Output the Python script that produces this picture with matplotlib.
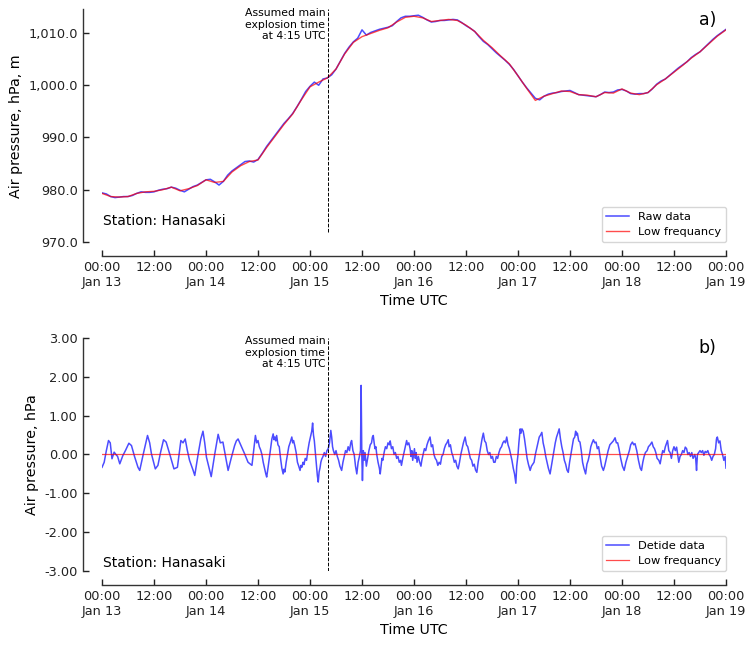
import numpy as np
import matplotlib

matplotlib.use("Agg")
import matplotlib.pyplot as plt
from matplotlib.ticker import FuncFormatter

# ---- data (hours since 2022-01-13 00:00 UTC) ----
raw_hours = np.arange(0, 145)
raw_hpa = [
    979.4, 979.2, 978.7, 978.5, 978.6, 978.7, 978.7, 978.9, 979.3, 979.6,
    979.5, 979.5, 979.6, 979.9, 980.1, 980.2, 980.5, 980.3, 979.9, 979.6,
    980.1, 980.6, 980.9, 981.4, 981.9, 982.0, 981.5, 980.9, 981.6, 982.8,
    983.6, 984.2, 984.8, 985.4, 985.5, 985.3, 985.8, 987.0, 988.3, 989.4,
    990.5, 991.6, 992.7, 993.6, 994.6, 995.9, 997.3, 998.8, 999.8, 1000.6,
    1000.0, 1001.2, 1001.4, 1002.0, 1003.1, 1004.6, 1006.1, 1007.3, 1008.3, 1009.0,
    1010.6, 1009.6, 1010.1, 1010.4, 1010.7, 1010.9, 1011.1, 1011.4, 1012.2, 1012.9,
    1013.2, 1013.2, 1013.3, 1013.4, 1013.0, 1012.5, 1012.1, 1012.2, 1012.4, 1012.4,
    1012.5, 1012.6, 1012.5, 1012.0, 1011.4, 1010.9, 1010.3, 1009.3, 1008.4, 1007.8,
    1007.0, 1006.2, 1005.5, 1004.8, 1004.0, 1003.0, 1001.8, 1000.6, 999.5, 998.5,
    997.5, 997.2, 997.9, 998.3, 998.5, 998.6, 998.8, 998.9, 999.0, 998.6,
    998.2, 998.1, 998.0, 997.9, 997.8, 998.2, 998.7, 998.6, 998.7, 999.1,
    999.2, 998.9, 998.4, 998.3, 998.4, 998.4, 998.6, 999.3, 1000.2, 1000.8,
    1001.2, 1001.9, 1002.6, 1003.3, 1003.9, 1004.5, 1005.3, 1005.9, 1006.4, 1007.2,
    1008.0, 1008.8, 1009.5, 1010.1, 1010.7,
]

low_hours = np.arange(0, 145, 2)
low_hpa = [
    979.3, 978.7, 978.6, 978.7, 979.3, 979.6, 979.7, 980.0, 980.5, 979.8,
    980.2, 980.8, 981.9, 981.4, 981.6, 983.4, 984.6, 985.4, 985.7, 988.1,
    990.3, 992.5, 994.5, 997.2, 999.7, 1000.6, 1001.4, 1003.1, 1006.0, 1008.2,
    1009.3, 1009.9, 1010.5, 1011.0, 1012.1, 1013.0, 1013.2, 1012.9, 1012.2, 1012.4,
    1012.6, 1012.4, 1011.5, 1010.3, 1008.6, 1007.2, 1005.6, 1004.1, 1001.8, 999.4,
    997.1, 997.9, 998.4, 998.9, 998.8, 998.2, 998.1, 997.8, 998.6, 998.5,
    999.3, 998.5, 998.2, 998.6, 1000.1, 1001.2, 1002.5, 1003.8, 1005.2, 1006.4,
    1007.9, 1009.4, 1010.6,
]

# detided series: (hour, hPa)
detide = [
    (0.0, -0.33), (0.5, -0.2), (1.0, 0.1), (1.5, 0.36), (1.9, 0.3), (2.3, -0.11), (2.8, 0.06),
    (3.2, 0.0), (3.6, -0.05), (4.1, -0.24), (4.8, -0.03), (5.4, 0.1), (6.2, 0.29), (6.8, 0.23),
    (7.5, -0.05), (8.3, -0.33), (8.7, -0.41), (9.5, 0.0), (10.5, 0.49), (11.0, 0.3), (11.4, 0.02),
    (12.3, -0.37), (12.9, -0.28), (13.5, 0.05), (14.2, 0.38), (14.8, 0.32), (15.6, 0.02),
    (16.6, -0.37), (17.4, -0.33), (18.2, 0.36), (18.7, 0.3), (19.2, 0.4), (19.7, 0.1),
    (20.2, -0.15), (21.0, -0.4), (21.4, -0.54), (22.2, 0.02), (22.8, 0.4), (23.3, 0.6),
    (23.7, 0.3), (24.1, -0.07), (25.2, -0.57), (26.0, 0.0), (26.8, 0.52), (27.3, 0.3),
    (27.9, 0.32), (28.5, -0.05), (29.1, -0.41), (29.8, -0.1), (30.6, 0.23), (31.0, 0.35),
    (31.4, 0.4), (32.2, 0.2), (32.9, 0.02), (33.7, -0.2), (34.6, -0.28), (35.0, 0.1),
    (35.4, 0.49), (35.7, 0.3),
    (36.0, 0.36), (36.3, 0.2), (36.6, 0.12), (36.9, 0.0), (37.2, -0.2), (37.5, -0.35),
    (37.8, -0.5), (38.0, -0.58), (38.3, -0.35), (38.6, -0.1), (38.9, 0.15), (39.2, 0.4),
    (39.5, 0.53), (39.7, 0.38), (39.9, 0.45), (40.1, 0.35), (40.3, 0.49), (40.6, 0.25),
    (40.9, 0.2), (41.2, -0.1), (41.5, -0.35), (41.8, -0.5), (42.0, -0.38), (42.2, -0.45),
    (42.5, -0.2), (42.8, 0.0), (43.1, 0.2), (43.4, 0.3), (43.8, 0.45), (44.0, 0.3),
    (44.2, 0.36), (44.5, 0.22), (44.8, 0.05), (45.1, -0.2), (45.4, -0.3), (45.7, -0.41),
    (45.9, -0.28), (46.1, -0.33), (46.4, -0.2), (46.6, -0.26), (46.9, -0.1), (47.2, -0.15),
    (47.5, 0.1), (47.8, 0.3), (48.1, 0.45), (48.4, 0.6), (48.6, 0.81), (48.8, 0.5),
    (49.0, 0.35), (49.2, 0.1), (49.5, -0.3), (49.7, -0.55), (49.9, -0.71), (50.1, -0.45),
    (50.3, -0.35), (50.5, -0.2), (50.7, -0.12), (51.0, -0.05), (51.3, 0.05), (51.6, -0.05),
    (51.9, 0.1), (52.2, 0.15), (52.5, 0.3), (52.8, 0.62), (53.0, 0.45), (53.2, 0.2),
    (53.4, 0.1), (53.7, 0.0), (54.0, 0.1), (54.3, -0.05), (54.6, -0.15), (54.9, -0.3),
    (55.3, -0.41), (55.6, -0.2), (55.9, -0.05), (56.2, 0.1), (56.5, 0.05), (56.8, 0.2),
    (57.1, 0.1), (57.4, 0.3), (57.6, 0.36), (57.9, 0.1), (58.2, 0.0), (58.5, -0.3),
    (58.8, -0.5), (59.1, -0.2), (59.4, -0.05), (59.65, 0.1), (59.8, 1.78), (59.95, 0.0),
    (60.1, -0.67), (60.3, 0.1), (60.5, -0.15), (60.7, 0.05), (61.0, -0.3), (61.3, -0.1),
    (61.6, 0.1), (61.9, 0.25), (62.2, 0.3), (62.4, 0.45), (62.6, 0.49), (62.8, 0.3),
    (63.0, 0.15), (63.2, 0.2), (63.4, 0.0), (63.7, -0.2), (64.0, -0.35), (64.2, -0.5),
    (64.4, -0.3), (64.6, -0.1), (64.8, -0.15), (65.1, 0.05), (65.4, 0.2), (65.7, 0.15),
    (66.0, 0.3), (66.3, 0.25), (66.5, 0.35), (66.8, 0.15), (67.1, 0.2), (67.4, 0.0),
    (67.7, 0.05), (68.0, -0.1), (68.3, -0.05), (68.6, -0.2), (68.9, -0.15), (69.1, -0.28),
    (69.4, -0.1), (69.7, 0.05), (70.0, 0.2), (70.3, 0.36), (70.5, 0.25), (70.8, 0.3),
    (71.1, 0.15), (71.3, -0.05), (71.5, 0.1), (71.7, -0.15), (71.9, 0.0), (72.1, 0.15),
    (72.3, -0.1), (72.5, 0.05), (72.7, -0.2), (73.0, -0.05), (73.3, -0.2), (73.6, -0.3),
    (73.8, -0.15), (74.1, 0.0), (74.4, 0.15), (74.7, 0.1), (75.0, 0.25), (75.3, 0.35),
    (75.7, 0.45), (76.0, 0.2), (76.3, 0.25), (76.6, 0.0), (76.9, -0.1), (77.2, -0.15),
    (77.5, -0.28), (77.8, -0.2), (78.1, -0.25), (78.4, -0.05), (78.7, 0.0), (79.0, 0.15),
    (79.3, 0.25), (79.6, 0.3), (79.9, 0.38), (80.1, 0.2), (80.4, 0.25), (80.7, 0.05),
    (81.0, -0.05), (81.3, -0.2), (81.6, -0.15), (81.9, -0.3), (82.2, -0.37), (82.5, -0.2),
    (82.8, 0.0), (83.1, 0.15), (83.4, 0.3), (83.8, 0.45), (84.1, 0.25), (84.4, 0.2),
    (84.7, 0.05), (85.0, -0.1), (85.3, -0.15), (85.6, -0.3), (85.9, -0.25), (86.2, -0.4),
    (86.5, -0.46), (86.8, -0.2), (87.1, 0.0), (87.4, 0.2), (87.7, 0.4), (88.0, 0.55),
    (88.3, 0.35), (88.6, 0.3), (88.9, 0.1), (89.2, 0.0), (89.5, 0.05), (89.8, -0.1),
    (90.1, -0.05), (90.4, -0.2), (90.7, -0.2), (91.0, -0.05), (91.3, -0.1), (91.6, 0.05),
    (91.9, 0.15), (92.2, 0.2), (92.5, 0.3), (92.8, 0.35), (93.1, 0.3), (93.4, 0.45),
    (93.7, 0.25), (94.0, 0.15), (94.3, 0.0), (94.6, -0.15), (94.9, -0.35), (95.2, -0.5),
    (95.5, -0.74), (95.7, -0.3), (96.0, 0.0), (96.2, 0.3), (96.5, 0.66), (96.7, 0.55),
    (96.9, 0.66), (97.2, 0.6), (97.5, 0.4), (97.8, 0.15), (98.1, -0.1), (98.4, -0.25),
    (98.8, -0.41), (99.1, -0.3), (99.4, -0.25), (99.7, -0.2), (100.0, 0.0), (100.3, 0.15),
    (100.6, 0.3), (100.9, 0.45), (101.2, 0.5), (101.5, 0.57), (101.8, 0.3), (102.1, 0.15),
    (102.4, -0.05), (102.7, -0.2), (103.0, -0.35), (103.4, -0.5), (103.7, -0.3), (104.0, -0.1),
    (104.3, 0.1), (104.6, 0.3), (104.9, 0.45), (105.2, 0.55), (105.5, 0.66), (105.8, 0.4),
    (106.1, 0.2), (106.4, 0.05), (106.7, -0.15), (107.0, -0.25), (107.3, -0.4), (107.6, -0.46),
    (107.9, -0.2), (108.2, 0.0), (108.5, 0.2), (108.8, 0.4), (109.1, 0.45), (109.3, 0.6),
    (109.5, 0.5), (109.7, 0.55), (110.0, 0.35), (110.3, 0.32), (110.6, 0.1), (110.9, -0.2),
    (111.2, -0.35), (111.6, -0.5), (111.9, -0.25), (112.2, -0.15), (112.5, 0.0), (112.8, 0.2),
    (113.1, 0.3), (113.4, 0.38), (113.7, 0.3), (114.0, 0.32), (114.3, 0.15), (114.6, 0.2),
    (115.0, -0.1), (115.3, -0.3), (115.7, -0.41), (116.0, -0.3), (116.4, -0.1), (116.8, 0.1),
    (117.2, 0.25), (117.6, 0.3), (118.0, 0.35), (118.4, 0.43), (118.7, 0.3), (119.0, 0.3),
    (119.3, 0.15), (119.7, -0.1), (120.1, -0.3), (120.5, -0.41), (120.9, -0.2), (121.3, -0.05),
    (121.7, 0.1), (122.0, 0.25), (122.4, 0.32), (122.7, 0.25), (123.0, 0.28), (123.4, 0.1),
    (123.8, -0.15), (124.2, -0.35), (124.5, -0.41), (124.8, -0.2), (125.1, -0.05), (125.4, 0.05),
    (125.8, 0.1), (126.1, 0.2), (126.5, 0.25), (126.9, 0.32), (127.2, 0.2), (127.5, 0.15),
    (127.8, 0.05), (128.1, -0.1), (128.5, -0.15), (128.8, -0.24), (129.1, -0.05), (129.4, 0.1),
    (129.7, 0.05), (130.0, 0.2), (130.3, 0.3), (130.5, 0.36), (130.8, 0.1), (131.1, 0.05),
    (131.4, -0.1), (131.7, 0.1), (132.0, 0.2), (132.3, 0.1), (132.6, 0.19), (132.9, -0.05),
    (133.1, -0.2), (133.4, -0.05), (133.7, 0.0), (134.0, 0.1), (134.3, 0.05), (134.6, 0.19),
    (134.9, 0.15), (135.2, 0.0), (135.5, 0.05), (135.8, -0.05), (136.1, 0.05), (136.4, -0.1),
    (136.8, 0.0), (137.0, -0.1), (137.2, -0.41), (137.4, 0.0), (137.7, 0.05), (138.0, 0.1),
    (138.3, 0.05), (138.6, 0.1), (138.9, -0.02), (139.2, 0.08), (139.5, 0.05), (139.8, 0.1),
    (140.1, 0.0), (140.4, -0.05), (140.7, -0.15), (141.0, -0.05), (141.3, 0.0), (141.6, 0.15),
    (141.8, 0.4), (142.0, 0.45), (142.3, 0.3), (142.6, 0.35), (142.9, 0.1), (143.2, 0.0),
    (143.5, -0.15), (143.8, -0.05), (144.0, -0.35),
]
detide_hours = [h for h, v in detide]
detide_hpa = [v for h, v in detide]
detide_low_hours = [0.0, 144.0]
detide_low_hpa = [0.0, 0.0]

explosion_hour = 52.25  # Jan 15 04:15 UTC
tick_hours = np.arange(0, 145, 12)
tick_labels = [
    "00:00\nJan 13", "12:00", "00:00\nJan 14", "12:00", "00:00\nJan 15", "12:00",
    "00:00\nJan 16", "12:00", "00:00\nJan 17", "12:00", "00:00\nJan 18", "12:00",
    "00:00\nJan 19",
]

plt.rcParams["font.family"] = "DejaVu Sans"
fig = plt.figure(figsize=(7.49, 6.45), dpi=100)
ax1 = fig.add_axes([0.1362, 0.6248, 0.8331, 0.3605])
ax2 = fig.add_axes([0.1362, 0.1147, 0.8331, 0.3613])


def style_axis(ax):
    ax.spines["top"].set_visible(False)
    ax.spines["right"].set_visible(False)
    ax.spines["left"].set_position(("outward", 14))
    ax.spines["bottom"].set_position(("outward", 10))
    for s in ("left", "bottom"):
        ax.spines[s].set_color("#333333")
        ax.spines[s].set_linewidth(1.0)
    ax.tick_params(direction="in", length=4, width=1, labelsize=9.3, colors="#222222")
    ax.set_xlim(0, 144)
    ax.set_xticks(tick_hours)
    ax.set_xticklabels(tick_labels)
    ax.set_xlabel("Time UTC", fontsize=10.3)


# ---- panel a ----
ax1.plot(raw_hours, raw_hpa, color="blue", alpha=0.7, lw=1.1, label="Raw data")
ax1.plot(low_hours, low_hpa, color="red", alpha=0.7, lw=1.0, label="Low frequancy")
ax1.vlines(explosion_hour, 972, 1014.5, colors="black", linestyles="--", lw=0.7)
ax1.set_ylim(970, 1014.5)
ax1.set_yticks([970, 980, 990, 1000, 1010])
ax1.yaxis.set_major_formatter(FuncFormatter(lambda v, p: f"{v:,.1f}"))
ax1.set_ylabel("Air pressure, hPa, m", fontsize=10.3)
style_axis(ax1)
ax1.text(explosion_hour - 0.7, 1014.8, "Assumed main\nexplosion time\nat 4:15 UTC",
         ha="right", va="top", fontsize=7.8)
ax1.text(0.3, 974.0, "Station: Hanasaki", fontsize=10, ha="left", va="center")
ax1.text(0.985, 0.955, "a)", transform=ax1.transAxes, fontsize=12.5, ha="right", va="center")
ax1.legend(loc="lower right", fontsize=8.2, borderaxespad=0.0)

# ---- panel b ----
ax2.plot(detide_hours, detide_hpa, color="blue", alpha=0.7, lw=1.1, label="Detide data")
ax2.plot(detide_low_hours, detide_low_hpa, color="red", alpha=0.7, lw=0.9, label="Low frequancy")
ax2.vlines(explosion_hour, -3, 3, colors="black", linestyles="--", lw=0.7)
ax2.set_ylim(-3, 3)
ax2.set_yticks([-3, -2, -1, 0, 1, 2, 3])
ax2.yaxis.set_major_formatter(FuncFormatter(lambda v, p: f"{v:.2f}"))
ax2.set_ylabel("Air pressure, hPa", fontsize=10.3)
style_axis(ax2)
ax2.text(explosion_hour - 0.7, 3.05, "Assumed main\nexplosion time\nat 4:15 UTC",
         ha="right", va="top", fontsize=7.8)
ax2.text(0.3, -2.8, "Station: Hanasaki", fontsize=10, ha="left", va="center")
ax2.text(0.985, 0.955, "b)", transform=ax2.transAxes, fontsize=12.5, ha="right", va="center")
ax2.legend(loc="lower right", fontsize=8.2, borderaxespad=0.0)

fig.savefig("out.png", dpi=100)
